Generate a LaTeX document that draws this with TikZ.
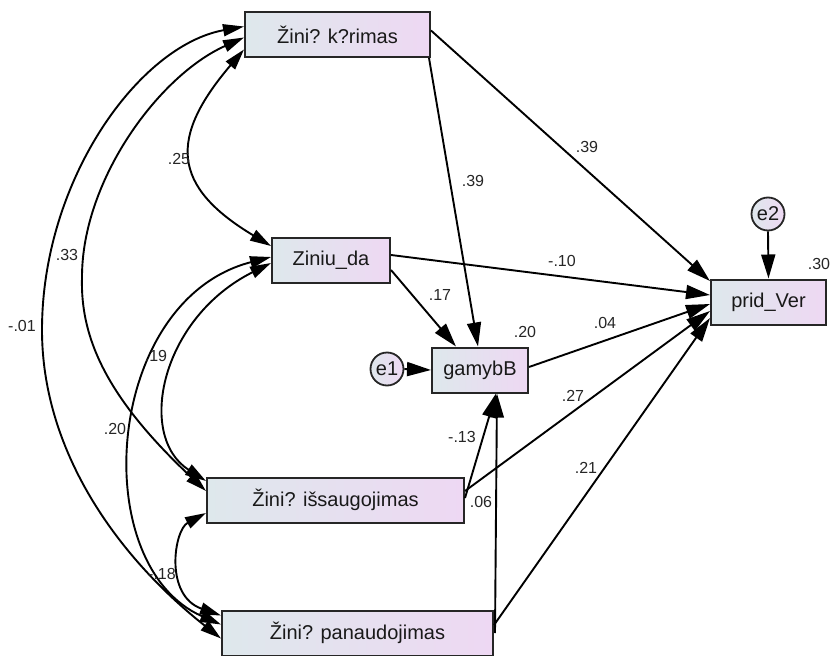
\documentclass[tikz,border=0pt]{standalone}
\usepackage{fontspec}
\setmainfont{Liberation Sans}
\usetikzlibrary{arrows.meta}
\definecolor{boxleft}{RGB}{222,232,236}
\definecolor{boxright}{RGB}{238,216,243}
\definecolor{edgegray}{RGB}{38,38,38}
\begin{document}
\begin{tikzpicture}[x=1pt,y=-1pt,
  var/.style={draw=edgegray, line width=2pt, left color=boxleft, right color=boxright,
    minimum height=45pt, inner sep=0pt, text=black!90, font=\fontsize{20}{22}\selectfont},
  err/.style={circle, draw=edgegray, line width=1.8pt, left color=boxleft, right color=boxright,
    minimum size=33pt, inner sep=0pt, text=black!90, font=\fontsize{20}{22}\selectfont},
  tip/.tip={Triangle[length=24pt,width=14pt]},
  ctip/.tip={Triangle[length=21pt,width=12pt]},
  reg/.style={line width=1.9pt, -tip},
  cov/.style={line width=1.9pt, ctip-ctip},
  coef/.style={inner sep=0pt, text=black!85, font=\fontsize{16}{18}\selectfont}]
\useasboundingbox (0,0) rectangle (831,656);

% observed variables
\node[var, minimum width=185pt] (kr)  at (337.5,34.5) {Žini? k?rimas};
\node[var, minimum width=118pt] (zd)  at (331,260)    {Ziniu\_da};
\node[var, minimum width=96pt]  (gb)  at (480,370)    {gamybB};
\node[var, minimum width=257pt] (is)  at (335.5,500)  {Žini? išsaugojimas};
\node[var, minimum width=271pt] (pa)  at (357.5,633)  {Žini? panaudojimas};
\node[var, minimum width=115pt] (pv)  at (768.5,302)  {prid\_Ver};

% error terms
\node[err] (e1) at (387,369) {e1};
\node[err] (e2) at (768,214) {e2};

% regression paths
\draw[reg] ([yshift=4pt]kr.east) -- ([yshift=21pt]pv.west);
\draw[reg] ([xshift=-2pt]kr.south east) -- ([xshift=-2pt]gb.north);
\draw[reg] ([yshift=5pt]zd.east) -- ([yshift=7pt]pv.west);
\draw[reg] ([yshift=-10pt]zd.east) -- ([xshift=-24pt]gb.north);
\draw[reg] ([yshift=3pt]gb.east) -- ([yshift=-2pt]pv.west);
\draw[reg] ([yshift=9pt]is.east) -- ([yshift=-9pt]pv.west);
\draw[reg] ([yshift=2pt]is.east) -- ([xshift=16pt]gb.south);
\draw[reg] ([xshift=1pt]pa.east) -- ([xshift=17pt]gb.south);
\draw[reg] ([yshift=8pt]pa.east) -- ([yshift=-16pt]pv.west);
\draw[reg] (e1.east) -- (gb.west);
\draw[reg] (e2.south) -- (pv.north);

% covariances
\draw[cov] ([yshift=-15pt]kr.west) .. controls +(-75,88) and +(-100,-60) .. ([yshift=14pt]zd.west);
\draw[cov] ([yshift=-3pt]kr.west) .. controls +(-85,38) and +(0,-97) .. (82,277)
                                  .. controls +(-2,63) and +(-97,-91) .. ([yshift=9pt]is.west);
\draw[cov] ([yshift=8pt]kr.west) .. controls +(-105,19) and +(0,-150) .. (42,330)
                                 .. controls +(0,120) and +(-105,-83) .. ([yshift=-5.5pt]pa.west);
\draw[cov] ([yshift=-3pt]zd.west) .. controls +(-110,55) and +(-70,-45) .. ([yshift=19pt]is.west);
\draw[cov] ([yshift=3pt]zd.west) .. controls +(-167,43) and +(-135,-59) .. ([yshift=8.5pt]pa.west);
\draw[cov] ([yshift=-13pt]is.west) .. controls +(-32,17) and +(-57,-20) .. ([yshift=17.5pt]pa.west);

% estimates
\node[coef] (c1)  at (587,147) {.39};
\node[coef] (c2)  at (473,181) {.39};
\node[coef] (c3)  at (179,159) {.25};
\node[coef] (c4)  at (67,255)  {.33};
\node[coef] (c5)  at (22,326)  {-.01};
\node[coef] (c6)  at (156,356) {.19};
\node[coef] (c7)  at (115,429) {.20};
\node[coef] (c8)  at (162,574) {-.18};
\node[coef] (c9)  at (562,261) {-.10};
\node[coef] (c10) at (440,295) {.17};
\node[coef] (c11) at (525,332) {.20};
\node[coef] (c12) at (605,323) {.04};
\node[coef] (c13) at (573,396) {.27};
\node[coef] (c14) at (586,468) {.21};
\node[coef] (c15) at (462,437) {-.13};
\node[coef] (c16) at (481,502) {.06};
\node[coef] (c17) at (819,264) {.30};
\end{tikzpicture}
\end{document}
